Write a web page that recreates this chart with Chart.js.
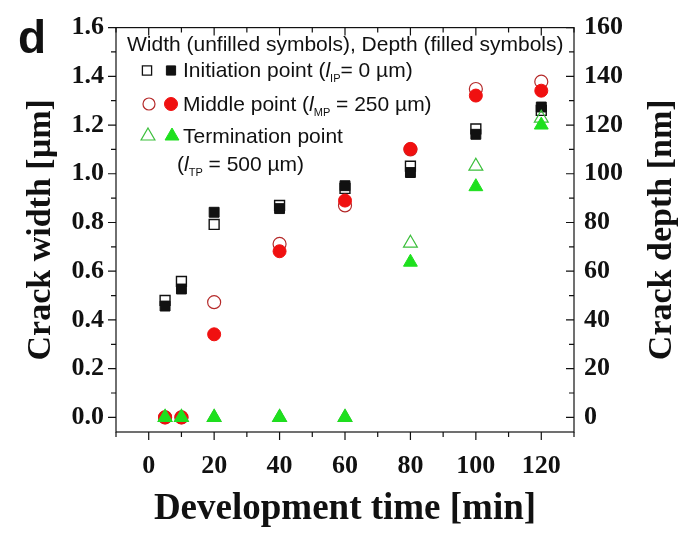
<!DOCTYPE html>
<html>
<head>
<meta charset="utf-8">
<script src="https://cdn.jsdelivr.net/npm/chart.js@4.4.1/dist/chart.umd.min.js"></script>
<style>
  body { margin: 0; background: #fff; }
  canvas { display: block; }
</style>
</head>
<body>
<canvas id="chart" width="685" height="540"></canvas>
<script>
// development time [min]
const times = [5, 10, 20, 40, 60, 80, 100, 120];

// crack width [µm] (unfilled symbols) and crack depth [nm] (filled symbols)
const initWidth = [0.48, 0.558, 0.792, 0.87, 0.94, 1.031, 1.184, 1.26];
const initDepth = [45.7, 52.7, 84.2, 85.7, 95.1, 100.5, 116.2, 127.4];
const midWidth  = [0, 0, 0.473, 0.712, 0.87, 1.10, 1.348, 1.378];
const midDepth  = [0, 0, 34.1, 68.2, 89, 110.2, 132.1, 134.1];
const termWidth = [0, 0, 0, 0, 0, 0.715, 1.031, 1.228];
const termDepth = [0, 0, 0, 0, 0, 63.7, 94.7, 120];

const xTicks = [0, 20, 40, 60, 80, 100, 120];
const xTickLabels = ["0", "20", "40", "60", "80", "100", "120"];
const yTicks = [0, 0.2, 0.4, 0.6, 0.8, 1.0, 1.2, 1.4, 1.6];
const yTickLabels = ["0.0", "0.2", "0.4", "0.6", "0.8", "1.0", "1.2", "1.4", "1.6"];
const y2Ticks = [0, 20, 40, 60, 80, 100, 120, 140, 160];
const y2TickLabels = ["0", "20", "40", "60", "80", "100", "120", "140", "160"];

const serifBold = (size) => ({ family: "'Liberation Serif', 'Times New Roman', serif", size: size, weight: "bold" });

const pts = (ys) => times.map((t, i) => ({ x: t, y: ys[i] }));

function drawSymbol(ctx, style, x, y, r, fill, stroke, lw) {
  ctx.save();
  ctx.beginPath();
  if (style === "rect") {
    const s = Math.SQRT1_2 * r;
    ctx.rect(x - s, y - s, 2 * s, 2 * s);
  } else if (style === "circle") {
    ctx.arc(x, y, r, 0, Math.PI * 2);
  } else {
    ctx.moveTo(x, y - r);
    ctx.lineTo(x + r * Math.sin(Math.PI / 3), y + r / 2);
    ctx.lineTo(x - r * Math.sin(Math.PI / 3), y + r / 2);
    ctx.closePath();
  }
  if (fill) { ctx.fillStyle = fill; ctx.fill(); }
  if (stroke) { ctx.strokeStyle = stroke; ctx.lineWidth = lw; ctx.stroke(); }
  ctx.restore();
}

function rich(ctx, x, y, parts) {
  let cx = x;
  for (const p of parts) {
    ctx.font = p.f;
    ctx.fillText(p.t, cx, y + (p.dy || 0));
    cx += ctx.measureText(p.t).width;
  }
}

const decorations = {
  id: "decorations",
  afterDraw(chart) {
    const { ctx, chartArea: a, scales } = chart;
    ctx.save();
    ctx.strokeStyle = "#111";
    ctx.lineWidth = 1.2;
    ctx.strokeRect(a.left, a.top, a.right - a.left, a.bottom - a.top);

    // tick marks: bottom/left outward, top/right inward
    ctx.beginPath();
    for (let v = -10; v <= 130; v += 10) {
      const px = scales.x.getPixelForValue(v);
      const len = v % 20 === 0 ? 8 : 5;
      ctx.moveTo(px, a.bottom); ctx.lineTo(px, a.bottom + len);
      ctx.moveTo(px, a.top); ctx.lineTo(px, a.top + len);
    }
    for (let k = 0; k <= 16; k++) {
      const py = scales.y.getPixelForValue(k / 10);
      const len = k % 2 === 0 ? 8 : 5;
      ctx.moveTo(a.left - len, py); ctx.lineTo(a.left, py);
      ctx.moveTo(a.right - len, py); ctx.lineTo(a.right, py);
    }
    ctx.stroke();

    // right axis title, reads bottom to top
    ctx.fillStyle = "#111";
    ctx.font = "bold 34px 'Liberation Serif', serif";
    ctx.textAlign = "center";
    ctx.textBaseline = "middle";
    ctx.save();
    ctx.translate(662, (a.top + a.bottom) / 2);
    ctx.rotate(-Math.PI / 2);
    ctx.fillText("Crack depth [nm]", 0, 0);
    ctx.restore();

    // panel letter
    ctx.textAlign = "left";
    ctx.textBaseline = "alphabetic";
    ctx.font = "bold 46px 'Liberation Sans', sans-serif";
    ctx.fillText("d", 18, 53);

    // legend
    const F = "21px 'Liberation Sans', sans-serif";
    const FI = "italic 21px 'Liberation Sans', sans-serif";
    const FS = "11px 'Liberation Sans', sans-serif";
    ctx.font = F;
    ctx.fillText("Width (unfilled symbols), Depth (filled symbols)", 127, 51);

    drawSymbol(ctx, "rect", 147, 70.5, 6.5, "#fff", "#111", 1.3);
    drawSymbol(ctx, "rect", 171, 70.5, 6.5, "#111", "#111", 1);
    rich(ctx, 183, 77, [{ t: "Initiation point (", f: F }, { t: "l", f: FI }, { t: "IP", f: FS, dy: 5 }, { t: "= 0 µm)", f: F }]);

    drawSymbol(ctx, "circle", 149, 104, 6, "#fff", "#b52a2a", 1.2);
    drawSymbol(ctx, "circle", 171, 104, 6.5, "#f01010", "#f01010", 1);
    rich(ctx, 183, 111, [{ t: "Middle point (", f: F }, { t: "l", f: FI }, { t: "MP", f: FS, dy: 5 }, { t: " = 250 µm)", f: F }]);

    drawSymbol(ctx, "triangle", 148, 136, 8, "#fff", "#3cbf3c", 1.2);
    drawSymbol(ctx, "triangle", 172, 136, 8, "#1ee01e", "#1ee01e", 1);
    rich(ctx, 183, 143, [{ t: "Termination point", f: F }]);
    rich(ctx, 177, 171, [{ t: "(", f: F }, { t: "l", f: FI }, { t: "TP", f: FS, dy: 5 }, { t: " = 500 µm)", f: F }]);
    ctx.restore();
  }
};

const ds = (label, data, axis, style, r, bg, border, lw, order) => ({
  label, data: pts(data), yAxisID: axis, pointStyle: style, pointRadius: r, pointHoverRadius: r,
  backgroundColor: bg, borderColor: border, borderWidth: lw, showLine: false, order
});

new Chart(document.getElementById("chart"), {
  type: "scatter",
  data: {
    datasets: [
      ds("Initiation width", initWidth, "y", "rect", 7, "rgba(255,255,255,0)", "#111", 1.4, 5),
      ds("Initiation depth", initDepth, "y2", "rect", 7, "#111", "#111", 1, 4),
      ds("Middle width", midWidth, "y", "circle", 6.5, "rgba(255,255,255,0)", "#b52a2a", 1.2, 3),
      ds("Middle depth", midDepth, "y2", "circle", 6.5, "#f01010", "#f01010", 1, 2),
      ds("Termination width", termWidth, "y", "triangle", 8, "rgba(255,255,255,0)", "#3cbf3c", 1.2, 1),
      ds("Termination depth", termDepth, "y2", "triangle", 8, "#1ee01e", "#1ee01e", 1, 0)
    ]
  },
  options: {
    responsive: false,
    animation: false,
    layout: { padding: { top: 21, left: 0, right: 0, bottom: 0 } },
    plugins: { legend: { display: false }, tooltip: { enabled: false } },
    scales: {
      x: {
        type: "linear", position: "bottom", min: -10, max: 130,
        afterBuildTicks: (s) => { s.ticks = xTicks.map((v) => ({ value: v })); },
        afterFit: (s) => { s.height = 108; },
        ticks: { padding: 19, color: "#111", font: serifBold(26), maxRotation: 0, callback: (v, i) => xTickLabels[i] },
        grid: { display: false, drawTicks: false },
        border: { display: false },
        title: { display: true, text: "Development time [min]", color: "#111", font: serifBold(37), padding: { top: 0, bottom: 8 } }
      },
      y: {
        type: "linear", position: "left", min: -0.06, max: 1.6,
        afterBuildTicks: (s) => { s.ticks = yTicks.map((v) => ({ value: v })); },
        afterFit: (s) => { s.width = 116; },
        ticks: { padding: 12, color: "#111", font: serifBold(26), callback: (v, i) => yTickLabels[i] },
        grid: { display: false, drawTicks: false },
        border: { display: false },
        title: { display: true, text: "Crack width [µm]", color: "#111", font: serifBold(34), padding: { top: 21, bottom: 0 } }
      },
      y2: {
        type: "linear", position: "right", min: -6, max: 160,
        afterBuildTicks: (s) => { s.ticks = y2Ticks.map((v) => ({ value: v })); },
        afterFit: (s) => { s.width = 111; },
        ticks: { padding: 10, color: "#111", font: serifBold(26), callback: (v, i) => y2TickLabels[i] },
        grid: { display: false, drawTicks: false },
        border: { display: false }
      }
    }
  },
  plugins: [decorations]
});
</script>
</body>
</html>
